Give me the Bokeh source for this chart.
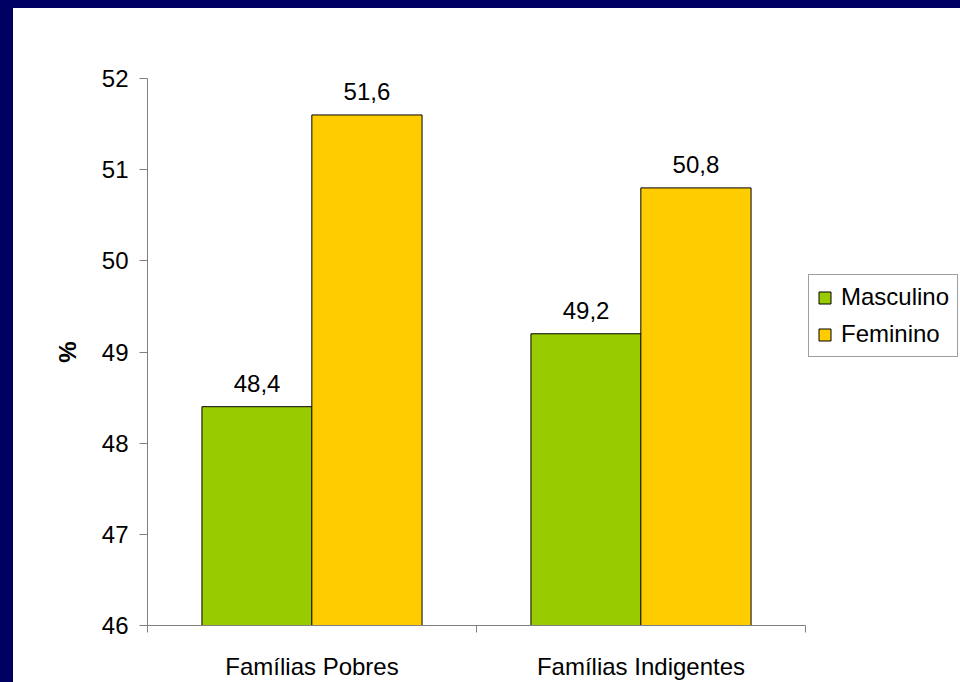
from bokeh.plotting import figure
from bokeh.models import (ColumnDataSource, FixedTicker, Legend, LegendItem,
                          LabelSet, Range1d)
from bokeh.core.properties import value
from bokeh.layouts import column
from bokeh.embed import file_html
from bokeh.resources import INLINE

# Data
categories = ["Famílias Pobres", "Famílias Indigentes"]
series = ["Masculino", "Feminino"]
masculino = [48.4, 49.2]
feminino = [51.6, 50.8]
y_ticks = [46, 47, 48, 49, 50, 51, 52]

colors = ["#99CC00", "#FFCC00"]
FONT = "Liberation Sans"
NAVY = "#000062"

# The plotting frame runs to the right edge so the legend can sit beside
# the bars; the x axis itself is bounded to the category span.
n = len(categories)
axis_px, frame_px = 658, 813
p = figure(width=947, height=674, output_backend="svg", toolbar_location=None,
           x_range=Range1d(0, n * frame_px / axis_px), y_range=Range1d(46, 52),
           min_border_left=134, min_border_right=0,
           min_border_top=70, min_border_bottom=53,
           background_fill_color="white", border_fill_color="white",
           outline_line_color=None)
p.xgrid.visible = False
p.ygrid.visible = False

bar_w = 0.335
offsets = [-0.167, 0.167]
renderers = []
for k, (name, vals) in enumerate(zip(series, [masculino, feminino])):
    xs = [i + 0.5 + offsets[k] for i in range(n)]
    src = ColumnDataSource(dict(
        x=xs, top=vals, bottom=[46] * len(vals),
        label=[f"{v:.1f}".replace(".", ",") for v in vals]))
    r = p.vbar(x="x", top="top", bottom="bottom", width=bar_w, source=src,
               fill_color=colors[k], line_color="black", line_width=1)
    renderers.append(r)
    p.add_layout(LabelSet(x="x", y="top", text="label", source=src,
                          text_align="center", text_baseline="alphabetic",
                          y_offset=15, text_font=value(FONT),
                          text_font_size=value("24px"),
                          text_color="black"))

# x axis: category labels centred, ticks at category boundaries
xa = p.xaxis[0]
xa.bounds = (0, n)
xa.ticker = FixedTicker(ticks=[i + 0.5 for i in range(n)],
                        minor_ticks=list(range(n + 1)))
xa.major_label_overrides = {i + 0.5: c for i, c in enumerate(categories)}
xa.major_tick_line_color = None
xa.major_tick_out = 0
xa.major_tick_in = 0
xa.minor_tick_line_color = "#808080"
xa.minor_tick_out = 7
xa.minor_tick_in = 0
xa.major_label_standoff = 20
xa.axis_line_color = "#808080"
xa.major_label_text_font = FONT
xa.major_label_text_font_size = "24px"
xa.major_label_text_color = "black"

ya = p.yaxis[0]
ya.ticker = FixedTicker(ticks=y_ticks, minor_ticks=[])
ya.axis_line_color = "#808080"
ya.major_tick_line_color = "#808080"
ya.major_tick_out = 8
ya.major_tick_in = 0
ya.minor_tick_line_color = None
ya.major_label_standoff = 11
ya.major_label_text_font = FONT
ya.major_label_text_font_size = "24px"
ya.major_label_text_color = "black"
ya.axis_label = "%"
ya.axis_label_text_font = FONT
ya.axis_label_text_font_size = "24px"
ya.axis_label_text_font_style = "bold"
ya.axis_label_text_color = "black"
ya.axis_label_standoff = 18

# legend placed by screen offsets from the frame's bottom-left corner
legend = Legend(items=[LegendItem(label=s, renderers=[r]) for s, r in zip(series, renderers)],
                location=(661, 268), padding=8, spacing=9, margin=0,
                glyph_width=15, glyph_height=15, label_standoff=9,
                label_text_font=FONT, label_text_font_size="24px",
                label_text_color="black",
                border_line_color="#404040", border_line_width=1,
                background_fill_color="white")
p.add_layout(legend)

# navy slide frame (top and left edges) around the white chart area
layout = column(p, styles={"background-color": "white",
                           "border-top": f"8px solid {NAVY}",
                           "border-left": f"13px solid {NAVY}",
                           "width": "960px", "height": "682px",
                           "box-sizing": "border-box"})

open("out.html", "w").write(file_html(layout, INLINE))
